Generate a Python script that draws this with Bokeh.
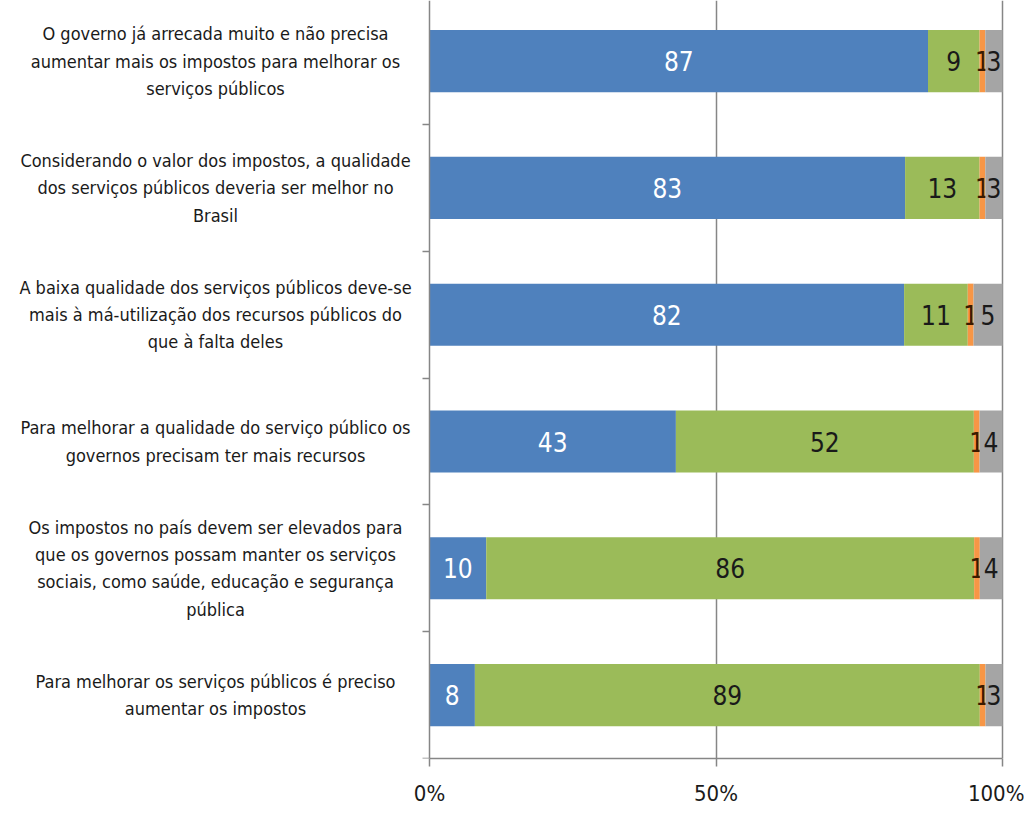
import numpy as np
from bokeh.plotting import figure
from bokeh.models import ColumnDataSource, Range1d, FixedTicker, LinearAxis
from bokeh.core.properties import value
from bokeh.embed import file_html
from bokeh.resources import INLINE

# ---- data (top to bottom) ----
categories = [
    "O governo já arrecada muito e não precisa\naumentar mais os impostos para melhorar os\nserviços públicos",
    "Considerando o valor dos impostos, a qualidade\ndos serviços públicos deveria ser melhor no\nBrasil",
    "A baixa qualidade dos serviços públicos deve-se\nmais à má-utilização dos recursos públicos do\nque à falta deles",
    "Para melhorar a qualidade do serviço público os\ngovernos precisam ter mais recursos",
    "Os impostos no país devem ser elevados para\nque os governos possam manter os serviços\nsociais, como saúde, educação e segurança\npública",
    "Para melhorar os serviços públicos é preciso\naumentar os impostos",
]
concorda = [87, 83, 82, 43, 10, 8]
discorda = [9, 13, 11, 52, 86, 89]
neutro = [1, 1, 1, 1, 1, 1]
nao_sabe = [3, 3, 5, 4, 4, 3]
series_names = ["concorda", "discorda", "neutro", "nao_sabe"]
series_values = [concorda, discorda, neutro, nao_sabe]
colors = ["#4F81BD", "#9BBB59", "#F79646", "#A5A5A5"]
label_colors = ["white", "#1a1a1a", "#3a1a00", "#1a1a1a"]
tick_values = [0, 0.5, 1.0]
tick_labels = {0: "0%", 0.5: "50%", 1: "100%"}

FONT = "DejaVu Sans Condensed"

n = len(categories)
ypos = [n - 0.5 - i for i in range(n)]
vals = np.array(series_values, dtype=float)
totals = vals.sum(axis=0)
frac = vals / totals
cum = np.cumsum(frac, axis=0)
left = cum - frac

PX = 573.0            # pixels per 100%
ZERO_PX = 429.0       # page x of 0%
PANEL_W = 0.0         # width of left axis panel
x_start = -(ZERO_PX - PANEL_W) / PX
x_end = (1024 - ZERO_PX) / PX
label_x = -(ZERO_PX - 215) / PX

p = figure(width=1024, height=813, output_backend="svg", toolbar_location=None,
           x_range=Range1d(x_start, x_end), y_range=Range1d(0, 5.978),
           min_border_left=0, min_border_right=0, min_border_top=0,
           min_border_bottom=55, y_axis_location=None, x_axis_location=None)
p.outline_line_color = None

# category labels
p.text(x=[label_x] * n, y=ypos, text=categories, text_align="center",
       text_baseline="middle", text_font=value(FONT), text_font_size="18px",
       text_color="#1a1a1a", text_line_height=1.3)

for k in range(len(series_names)):
    src = ColumnDataSource(dict(y=ypos, left=left[k], right=cum[k],
                                mid=(left[k] + cum[k]) / 2,
                                txt=[str(v) for v in series_values[k]]))
    p.hbar(y="y", left="left", right="right", height=0.49, source=src,
           fill_color=colors[k], line_color=None)
    p.text(x="mid", y="y", text="txt", source=src, text_align="center",
           text_baseline="middle", text_color=label_colors[k],
           text_font=value(FONT), text_font_size="26px")

xaxis = LinearAxis(ticker=FixedTicker(ticks=tick_values), bounds=(0, 1),
                   major_label_overrides=tick_labels)
xaxis.axis_line_color = "#868686"
xaxis.axis_line_width = 1.5
xaxis.major_tick_line_color = "#868686"
xaxis.major_tick_line_width = 1.5
xaxis.major_tick_out = 8
xaxis.major_tick_in = 0
xaxis.minor_tick_line_color = None
xaxis.major_label_text_font = FONT
xaxis.major_label_text_font_size = "22px"
xaxis.major_label_text_color = "#1a1a1a"
xaxis.major_label_standoff = 14
p.add_layout(xaxis, "below")

yaxis = LinearAxis(ticker=FixedTicker(ticks=list(range(n + 1))),
                   major_label_overrides={i: "" for i in range(n + 1)},
                   fixed_location=0)
yaxis.axis_line_color = "#868686"
yaxis.axis_line_width = 1.5
yaxis.major_tick_line_color = "#868686"
yaxis.major_tick_line_width = 1.5
yaxis.major_tick_out = 7
yaxis.major_tick_in = 0
yaxis.minor_tick_line_color = None
yaxis.major_label_text_font_size = "0px"
yaxis.major_label_standoff = 0
p.add_layout(yaxis, "left")

p.xgrid.ticker = FixedTicker(ticks=[0.5, 1.0])
p.xgrid.grid_line_color = "#868686"
p.xgrid.grid_line_width = 1.5
p.ygrid.grid_line_color = None

open("out.html", "w").write(file_html(p, INLINE))
